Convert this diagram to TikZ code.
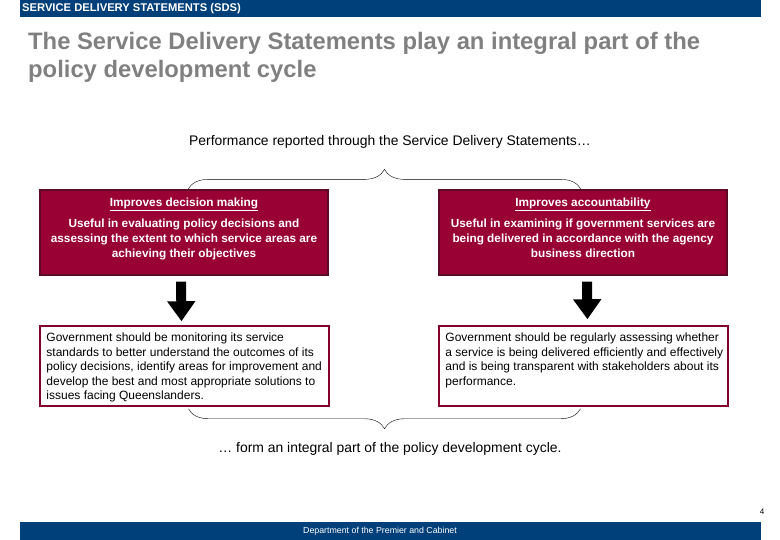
\documentclass[tikz,border=0pt]{standalone}
\usepackage{fontspec}
\setmainfont{Liberation Sans}
\usepackage{xcolor}
\definecolor{QGblue}{HTML}{00407A}
\definecolor{QGmaroon}{HTML}{990033}
\definecolor{QGdark}{HTML}{5C0A26}
\definecolor{QGgrey}{HTML}{808080}
\usetikzlibrary{arrows.meta,positioning,calc,decorations.pathreplacing}

\begin{document}
\begin{tikzpicture}[x=1pt,y=-1pt,
    redbox/.style={draw=QGdark,line width=1.2pt,fill=QGmaroon,minimum width=288pt,minimum height=85pt,inner sep=0pt},
    outbox/.style={draw=QGmaroon!85!black,line width=1.5pt,fill=white,minimum width=289pt,minimum height=80pt,inner sep=0pt},
    redtext/.style={text=white,font=\bfseries\fontsize{11.8}{15}\selectfont,align=center,anchor=north,inner sep=0pt},
    bodytext/.style={font=\fontsize{12}{14.5}\selectfont,align=left,anchor=north west,inner sep=0pt},
    bigarrow/.style={-{Triangle[width=27pt,length=20pt]},line width=10pt},
    curly/.style={decorate,decoration={brace,amplitude=#1}}]
    \useasboundingbox (0,0) rectangle (780,540);
    % header and footer
    \fill[QGblue] (20,0) rectangle (761,17);
    \node[anchor=west,inner sep=0pt,text=white,font=\bfseries\fontsize{11.2}{12}\selectfont] (head) at (22,8.5) {SERVICE DELIVERY STATEMENTS (SDS)};
    \node[anchor=north west,inner sep=0pt,text=QGgrey,align=left,font=\bfseries\fontsize{23.8}{28}\selectfont] (title) at (28,32)
      {The Service Delivery Statements play an integral part of the\\policy development cycle};
    \node[font=\fontsize{13.9}{16}\selectfont] (perf) at (390,142) {Performance reported through the Service Delivery Statements\dots};
    % red boxes
    \node[redbox] (dec) at (184,232.5) {};
    \node[redbox] (acc) at (583,232.5) {};
    \node[redtext] (dectxt) at ([yshift=-8pt]dec.north) {\underline{Improves decision making}\\[6pt]
      Useful in evaluating policy decisions and\\assessing the extent to which service areas are\\achieving their objectives};
    \node[redtext] (acctxt) at ([yshift=-8pt]acc.north) {\underline{Improves accountability}\\[6pt]
      Useful in examining if government services are\\being delivered in accordance with the agency\\business direction};
    % outcome boxes
    \node[outbox] (mon) at (184.5,366) {};
    \node[outbox] (reg) at (583.5,366) {};
    \node[bodytext] (montxt) at ([xshift=7pt,yshift=-7.5pt]mon.north west)
      {Government should be monitoring its service\\standards to better understand the outcomes of its\\policy decisions, identify areas for improvement and\\develop the best and most appropriate solutions to\\issues facing Queenslanders.};
    \node[bodytext] (regtxt) at ([xshift=7pt,yshift=-7.5pt]reg.north west)
      {Government should be regularly assessing whether\\a service is being delivered efficiently and effectively\\and is being transparent with stakeholders about its\\performance.};
    \draw[bigarrow,shorten <=6pt,shorten >=4pt] ([xshift=-3pt]dec.south) -- ([xshift=-3pt]mon.north);
    \draw[bigarrow,shorten <=6pt,shorten >=6pt] ([xshift=4pt]acc.south) -- ([xshift=4pt]reg.north);
    % braces
    \draw[curly=20pt] ([xshift=4pt]dec.north) -- ([xshift=-2pt]acc.north);
    \draw[curly=20pt] ([xshift=-3pt,yshift=-2pt]reg.south) -- ([xshift=4pt,yshift=-2pt]mon.south);
    \node[font=\fontsize{13.9}{16}\selectfont] (cycle) at (390,449) {\dots\ form an integral part of the policy development cycle.};
    \node[font=\fontsize{8}{9}\selectfont] (page) at (762,512) {4};
    \fill[QGblue] (20,522) rectangle (761,540);
    \node[text=white,font=\fontsize{8.8}{9}\selectfont] (dept) at (380,531) {Department of the Premier and Cabinet};
\end{tikzpicture}
\end{document}
